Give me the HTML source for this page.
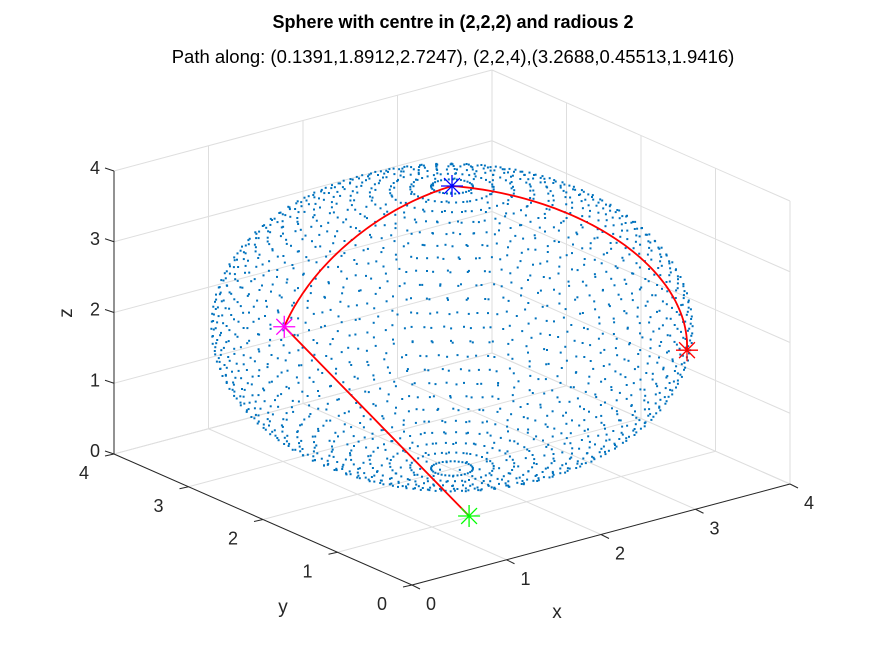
<!DOCTYPE html>
<html><head><meta charset="utf-8"><style>
html,body{margin:0;padding:0;background:#fff;}
svg{display:block;font-family:"Liberation Sans",Arial,sans-serif;}
</style></head><body>
<svg id="chart" width="875" height="656" viewBox="0 0 875 656">
<rect width="875" height="656" fill="#fff"/>
<text x="453" y="28" text-anchor="middle" font-size="18" font-weight="bold" fill="#000">Sphere with centre in (2,2,2) and radious 2</text>
<text x="453" y="63" text-anchor="middle" font-size="18.5" fill="#000">Path along: (0.1391,1.8912,2.7247), (2,2,4),(3.2688,0.45513,1.9416)</text>
<g id="grid"></g>
<g id="axes"></g>
<g id="dots"></g>
<g id="path"></g>
<g id="marks"></g>
<text x="557" y="618" text-anchor="middle" font-size="19" fill="#262626">x</text>
<text x="283" y="613" text-anchor="middle" font-size="19" fill="#262626">y</text>
<text x="0" y="0" transform="translate(72,313) rotate(-90)" text-anchor="middle" font-size="19" fill="#262626">z</text>
</svg>
<script>
const xTicks=[0,1,2,3,4];
const yTicks=[0,1,2,3,4];
const zTicks=[0,1,2,3,4];
const center=[2,2,2];
const radius=[2];
const startPoint=[1.409,1.021,0];
const pointA=[0.1391,1.8912,2.7247];
const pointTop=[2,2,4];
const pointB=[3.2688,0.45513,1.9416];
const ringCount=[36];

const NS='http://www.w3.org/2000/svg';
const O=[412,585],ex=[94.5,-25.25],ey=[-74.5,-32.75],ez=[0,-70.75];
function P(x,y,z){return [O[0]+x*ex[0]+y*ey[0]+z*ez[0],O[1]+x*ex[1]+y*ey[1]+z*ez[1]];}
function mk(t,a,parent){const e=document.createElementNS(NS,t);for(const k in a)e.setAttribute(k,a[k]);parent.appendChild(e);return e;}
function line(p,q,st,parent){return mk('line',{x1:p[0],y1:p[1],x2:q[0],y2:q[1],stroke:st.c,'stroke-width':st.w},parent);}
const grid=document.getElementById('grid'),axes=document.getElementById('axes');
const gs={c:'#dedede',w:1};
xTicks.forEach(v=>{let l=line(P(v,4,0),P(v,4,4),gs,grid);
 l=line(P(v,0,0),P(v,4,0),gs,grid);});
yTicks.forEach(v=>{let l=line(P(4,v,0),P(4,v,4),gs,grid);
 l=line(P(0,v,0),P(4,v,0),gs,grid);});
zTicks.forEach(v=>{let l=line(P(0,4,v),P(4,4,v),gs,grid);
 l=line(P(4,4,v),P(4,0,v),gs,grid);});
const as={c:'#262626',w:1};
let a=line(P(0,0,0),P(4,0,0),as,axes);
a=line(P(0,0,0),P(0,4,0),as,axes);
a=line(P(0,4,0),P(0,4,4),as,axes);
function txt(p,s,anchor,parent){const t=mk('text',{x:p[0],y:p[1],'text-anchor':anchor,'font-size':18,fill:'#262626'},parent);t.textContent=s;return t;}
xTicks.forEach(v=>{const p=P(v,0,0);line(p,[p[0]+8,p[1]+4],as,axes);
 const t=txt([p[0]+19,p[1]+25],String(v),'middle',axes);});
yTicks.forEach(v=>{const p=P(0,v,0);line(p,[p[0]-9,p[1]+2],as,axes);
 const t=txt([p[0]-30,p[1]+25],String(v),'middle',axes);});
zTicks.forEach(v=>{const p=P(0,4,v);line(p,[p[0]-9,p[1]-3],as,axes);
 const t=txt([p[0]-14,p[1]+3],String(v),'end',axes);});
const dots=document.getElementById('dots');
const N=ringCount[0],R=radius[0];
for(let i=1;i<N;i++){const ph=Math.PI*i/N;const n=Math.round(28+44*Math.sin(ph));
 for(let j=0;j<n;j++){const th=2*Math.PI*(j+0.37*i)/n;
  const p=P(center[0]+R*Math.sin(ph)*Math.cos(th),center[1]+R*Math.sin(ph)*Math.sin(th),center[2]+R*Math.cos(ph));
  const r=mk('rect',{x:(p[0]-1).toFixed(1),y:(p[1]-1).toFixed(1),width:2,height:2,fill:'#0072BD'},dots);
  }}
const pathG=document.getElementById('path');
function arc(A,B){const u=A.map((v,k)=>v-center[k]),w=B.map((v,k)=>v-center[k]);
 const nu=Math.hypot(...u),nw=Math.hypot(...w);const c=(u[0]*w[0]+u[1]*w[1]+u[2]*w[2])/(nu*nw);const om=Math.acos(Math.max(-1,Math.min(1,c)));
 const pts=[];for(let s=0;s<=60;s++){const t=s/60;const a1=Math.sin((1-t)*om)/Math.sin(om),a2=Math.sin(t*om)/Math.sin(om);
  const v=u.map((x,k)=>a1*x/nu+a2*w[k]/nw);pts.push(P(center[0]+R*v[0],center[1]+R*v[1],center[2]+R*v[2]));}return pts;}
const pts=[P(...startPoint)].concat(arc(pointA,pointTop)).concat(arc(pointTop,pointB).slice(1));
const pl=mk('polyline',{points:pts.map(p=>p[0].toFixed(1)+','+p[1].toFixed(1)).join(' '),fill:'none',stroke:'#ff0000','stroke-width':1.8},pathG);

const marks=document.getElementById('marks');
function star(pt,col,name){const p=P(...pt);const g=mk('g',{stroke:col,'stroke-width':1.3},marks);
 
 const s=11;line([p[0]-s,p[1]],[p[0]+s,p[1]],{c:col,w:1.3},g);line([p[0],p[1]-s],[p[0],p[1]+s],{c:col,w:1.3},g);
 const d=s*0.72;line([p[0]-d,p[1]-d],[p[0]+d,p[1]+d],{c:col,w:1.3},g);line([p[0]-d,p[1]+d],[p[0]+d,p[1]-d],{c:col,w:1.3},g);}
star(startPoint,'#00ff00','start-marker');
star(pointA,'#ff00ff','point-a-marker');
star(pointTop,'#0000ff','top-marker');
star(pointB,'#ff0000','point-b-marker');
</script>
</body></html>
